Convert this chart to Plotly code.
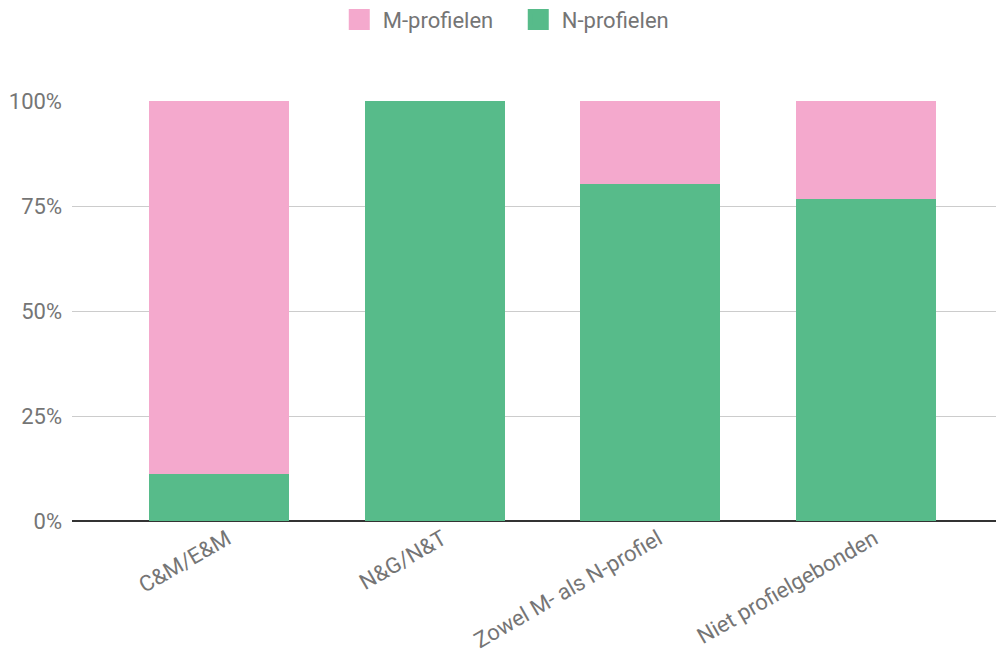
import plotly.graph_objects as go

categories = ["C&M/E&M", "N&G/N&T", "Zowel M- als N-profiel", "Niet profielgebonden"]
n_profielen = [11.3, 100.0, 80.2, 76.6]
m_profielen = [88.7, 0.0, 19.8, 23.4]

font_family = "Roboto, sans-serif"
text_color = "#757575"
pink = "#f4a9cd"
green = "#57bb8a"

fig = go.Figure()
# stacked bars: N at bottom, M on top
fig.add_trace(go.Bar(name="N-profielen", x=categories, y=n_profielen, showlegend=False,
                     marker=dict(color=green, line=dict(width=0)), width=0.65))
fig.add_trace(go.Bar(name="M-profielen", x=categories, y=m_profielen, showlegend=False,
                     marker=dict(color=pink, line=dict(width=0)), width=0.65))
# legend entries with square swatches
for name, col in [("M-profielen", pink), ("N-profielen", green)]:
    fig.add_trace(go.Scatter(name=name, x=[None], y=[None], mode="markers",
                             marker=dict(symbol="square", size=16, color=col,
                                         line=dict(color=col, width=5)),
                             showlegend=True))

# page body adds an 8px offset, so the figure is 8px smaller
fig.update_layout(
    barmode="stack",
    barnorm="percent",
    width=996, height=649,
    margin=dict(l=64, r=0, t=93, b=136, autoexpand=False),
    plot_bgcolor="white", paper_bgcolor="white",
    font=dict(family=font_family, color=text_color, size=22),
    legend=dict(orientation="h", x=0.283, xanchor="left", y=0.982, yanchor="middle",
                yref="container", traceorder="normal", itemwidth=37,
                entrywidth=127, entrywidthmode="pixels",
                font=dict(size=22, color=text_color)),
    showlegend=True,
)
fig.update_xaxes(range=[-0.682, 3.64], tickangle=-30, showgrid=False, showline=False,
                 ticks="", tickfont=dict(size=22, color=text_color), automargin=False,
                 ticklabelshift=8, ticklabelstandoff=0)
fig.update_yaxes(range=[0, 100], tickvals=[0, 25, 50, 75, 100],
                 ticktext=["0%", "25%", "50%", "75%", "100%"],
                 showgrid=True, gridcolor="#cccccc", gridwidth=1,
                 zeroline=True, zerolinecolor="#333333", zerolinewidth=2,
                 ticks="", ticklabelstandoff=9, automargin=False,
                 tickfont=dict(size=22, color=text_color))

fig.write_html("out.html")
